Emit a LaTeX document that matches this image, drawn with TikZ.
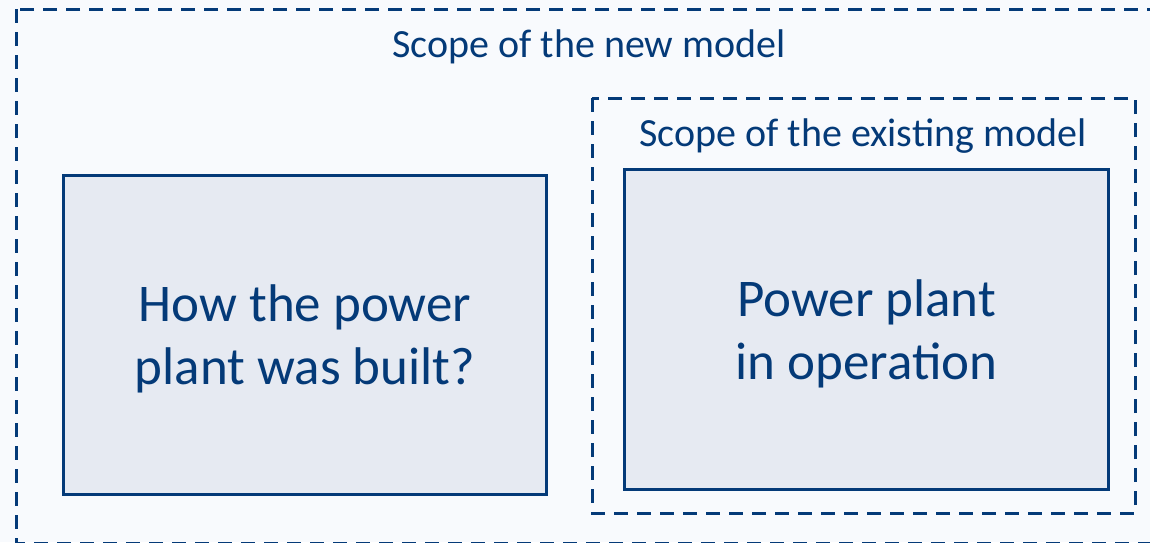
\documentclass[tikz,border=0pt]{standalone}
\usepackage{fontspec}
\setmainfont{Carlito}
\definecolor{navy}{RGB}{4,58,120}
\definecolor{boxfill}{RGB}{230,234,242}
\definecolor{paper}{RGB}{248,250,253}
\begin{document}
\begin{tikzpicture}[x=1pt,y=-1pt,
  scopeframe/.style={draw=navy,line width=3pt,dash pattern=on 14pt off 9pt},
  stagebox/.style={draw=navy,line width=3pt,fill=boxfill},
  scopelabel/.style={text=navy,font=\fontsize{40}{48}\selectfont,anchor=base,inner sep=0pt},
  boxlabel/.style={text=navy,font=\fontsize{53}{63}\selectfont,align=center,inner sep=0pt}]
  \useasboundingbox (0,0) rectangle (1150,542);
  \fill[paper] (0,0) rectangle (1150,542);
  \clip (0,0) rectangle (1150,542);
  % outer scope frame, running past the right and bottom edges
  \draw[scopeframe] (16,9) rectangle (1170,543);
  \node[scopelabel] (newscope) at (589,57) {Scope of the new model};
  % inner scope frame
  \draw[scopeframe] (592,98) rectangle (1135,513);
  \node[scopelabel] (oldscope) at (863,146) {Scope of the existing model};
  % the two stages
  \node[stagebox,minimum width=483pt,minimum height=319pt,anchor=north west] (built) at (62,174) {};
  \node[boxlabel] (builttext) at ([yshift=-4pt]built.center) {How the power\\plant was built?};
  \node[stagebox,minimum width=484pt,minimum height=320pt,anchor=north west] (operation) at (623,168) {};
  \node[boxlabel] (optext) at ([yshift=-4pt]operation.center) {Power plant\\in operation};
\end{tikzpicture}
\end{document}
